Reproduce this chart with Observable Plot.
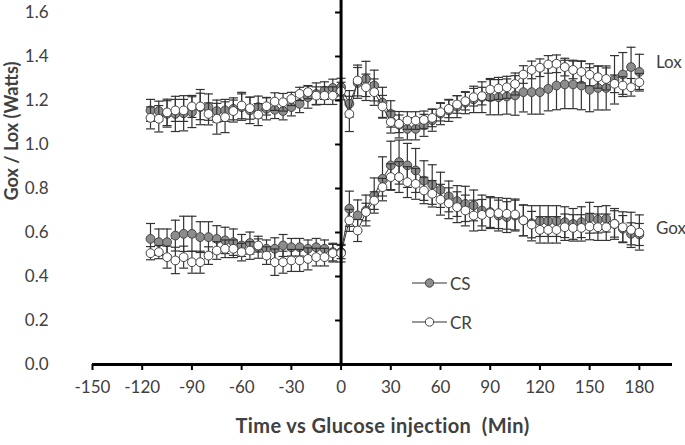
<!DOCTYPE html>
<html><head><meta charset="utf-8">
<script src="https://cdn.jsdelivr.net/npm/d3@7"></script>
<script src="https://cdn.jsdelivr.net/npm/@observablehq/plot@0.6"></script>
<style>
body{margin:0;background:#fff;}
#wrap{position:relative;width:685px;height:445px;font-family:Lato,"Open Sans",sans-serif;}
.leg{position:absolute;display:flex;align-items:center;font-size:17px;color:#404040;line-height:1;}
.leg svg{margin-right:3px;}
</style></head><body><div id="wrap"></div>
<script>
// Time (min) relative to glucose injection
const times = [-115,-110,-105,-100,-95,-90,-85,-80,-75,-70,-65,-60,-55,-50,-45,-40,-35,-30,-25,-20,-15,-10,-5,0,
  5,10,15,20,25,30,35,40,45,50,55,60,65,70,75,80,85,90,95,100,105,110,115,120,125,130,135,140,145,150,155,160,165,170,175,180];

// Lox, CS
const csLox = [1.155,1.152,1.139,1.139,1.142,1.147,1.170,1.170,1.152,1.155,1.162,1.170,1.155,1.170,1.162,1.158,1.152,1.170,1.185,1.215,1.230,1.245,1.257,1.261,
  1.185,1.280,1.298,1.268,1.190,1.139,1.090,1.071,1.071,1.087,1.110,1.140,1.155,1.172,1.190,1.205,1.215,1.215,1.215,1.218,1.223,1.238,1.238,1.238,1.253,1.268,1.273,1.273,1.268,1.249,1.257,1.257,1.294,1.318,1.352,1.330];
const csLoxErr = [0.05,0.045,0.06,0.08,0.08,0.07,0.08,0.06,0.05,0.05,0.05,0.06,0.06,0.05,0.05,0.04,0.04,0.04,0.04,0.05,0.05,0.04,0.04,0.04,
  0.06,0.07,0.08,0.07,0.07,0.06,0.06,0.05,0.05,0.05,0.05,0.05,0.05,0.05,0.05,0.06,0.07,0.08,0.08,0.08,0.09,0.09,0.10,0.10,0.10,0.11,0.11,0.11,0.11,0.10,0.10,0.10,0.11,0.10,0.09,0.08];
// Lox, CR
const crLox = [1.121,1.117,1.146,1.155,1.155,1.173,1.173,1.139,1.117,1.124,1.152,1.177,1.165,1.136,1.174,1.195,1.192,1.207,1.230,1.238,1.222,1.222,1.222,1.243,
  1.139,1.291,1.260,1.238,1.173,1.102,1.094,1.109,1.109,1.112,1.121,1.147,1.162,1.182,1.197,1.215,1.220,1.250,1.255,1.260,1.275,1.318,1.339,1.349,1.364,1.367,1.352,1.339,1.330,1.317,1.306,1.298,1.276,1.268,1.260,1.283];
const crLoxErr = [0.05,0.06,0.06,0.05,0.05,0.05,0.06,0.05,0.07,0.07,0.05,0.06,0.05,0.05,0.04,0.04,0.04,0.03,0.03,0.03,0.04,0.04,0.04,0.04,
  0.08,0.07,0.06,0.06,0.05,0.05,0.04,0.04,0.04,0.04,0.04,0.04,0.04,0.04,0.04,0.04,0.04,0.05,0.05,0.05,0.05,0.04,0.04,0.04,0.04,0.04,0.04,0.04,0.05,0.05,0.05,0.05,0.04,0.04,0.04,0.04];
// Gox, CS
const csGox = [0.571,0.556,0.556,0.586,0.594,0.594,0.579,0.579,0.571,0.564,0.556,0.541,0.552,0.533,0.526,0.526,0.541,0.533,0.533,0.526,0.533,0.526,0.511,0.511,
  0.708,0.678,0.700,0.768,0.844,0.905,0.920,0.905,0.882,0.836,0.818,0.794,0.764,0.743,0.730,0.723,0.700,0.693,0.677,0.670,0.677,0.655,0.642,0.652,0.652,0.652,0.647,0.639,0.647,0.667,0.658,0.662,0.639,0.617,0.594,0.591];
const csGoxErr = [0.07,0.06,0.06,0.07,0.08,0.08,0.07,0.07,0.06,0.06,0.06,0.05,0.05,0.05,0.04,0.05,0.05,0.04,0.04,0.04,0.04,0.04,0.04,0.03,
  0.08,0.07,0.07,0.08,0.10,0.11,0.10,0.10,0.10,0.09,0.09,0.08,0.07,0.07,0.08,0.07,0.07,0.07,0.07,0.07,0.07,0.07,0.08,0.07,0.07,0.07,0.07,0.07,0.07,0.07,0.06,0.06,0.06,0.06,0.05,0.05];
// Gox, CR
const crGox = [0.506,0.511,0.488,0.473,0.488,0.465,0.465,0.495,0.518,0.526,0.526,0.511,0.518,0.541,0.495,0.465,0.465,0.473,0.473,0.480,0.488,0.488,0.506,0.506,
  0.655,0.609,0.693,0.745,0.806,0.852,0.852,0.829,0.821,0.791,0.776,0.749,0.733,0.715,0.700,0.677,0.680,0.688,0.688,0.685,0.682,0.655,0.636,0.612,0.612,0.612,0.624,0.621,0.621,0.627,0.624,0.624,0.639,0.624,0.612,0.600];
const crGoxErr = [0.03,0.03,0.05,0.06,0.05,0.05,0.05,0.04,0.04,0.04,0.04,0.04,0.04,0.03,0.04,0.06,0.05,0.05,0.05,0.05,0.04,0.04,0.04,0.04,
  0.05,0.05,0.04,0.04,0.04,0.06,0.07,0.07,0.07,0.06,0.06,0.07,0.07,0.07,0.07,0.07,0.07,0.07,0.07,0.07,0.07,0.07,0.06,0.06,0.06,0.06,0.06,0.06,0.06,0.06,0.06,0.06,0.07,0.07,0.08,0.08];

const xTicks = [-150,-120,-90,-60,-30,0,30,60,90,120,150,180];
const yTicks = [0,0.2,0.4,0.6,0.8,1.0,1.2,1.4,1.6];
const seriesLabels = ["Lox","Gox"];
const seriesLabelX = [190,190];
const seriesLabelY = [1.372,0.618];
const xTitle = "Time vs Glucose injection \u00a0(Min)";
const yTitle = "Gox / Lox (Watts)";

const CS_FILL = "#8c8c8c", CR_FILL = "#ffffff", INK = "#333333";

const rows = (vals, errs) => times.map((t, i) => ({t, v: vals[i], e: errs[i]}));
const capSymbol = {draw(ctx){ ctx.moveTo(-4.5,0); ctx.lineTo(4.5,0); }};
const yTickSymbol = {draw(ctx){ ctx.moveTo(-6,0); ctx.lineTo(0,0); }};

function seriesMarks(data, fill) {
  return [
    Plot.ruleX(data, {x:"t", y1: d => d.v - d.e, y2: d => d.v + d.e, stroke: INK, strokeWidth: 1.2}),
    Plot.dot(data, {x:"t", y: d => d.v + d.e, symbol: capSymbol, r: 3, fill: "none", stroke: INK, strokeWidth: 1.2}),
    Plot.dot(data, {x:"t", y: d => d.v - d.e, symbol: capSymbol, r: 3, fill: "none", stroke: INK, strokeWidth: 1.2}),
    Plot.line(data, {x:"t", y:"v", stroke: INK, strokeWidth: 1}),
    Plot.dot(data, {x:"t", y:"v", r: 4.4, fill, stroke: "#444", strokeWidth: 1})
  ];
}

const chart = Plot.plot({
  width: 685, height: 445,
  marginTop: 12, marginRight: 13, marginBottom: 81, marginLeft: 92,
  style: {fontFamily: "Lato, 'Open Sans', sans-serif", color: "#404040", background: "#fff"},
  x: {domain: [-150, 200]},
  y: {domain: [0, 1.6]},
  marks: [
    Plot.axisY({ticks: yTicks, tickSize: 0, tickPadding: 44, tickFormat: d3.format(".1f"), fontSize: 17, label: null}),
    Plot.axisX({ticks: xTicks, tickSize: 6, tickPadding: 10, strokeWidth: 2, stroke: "#000", tickFormat: d => String(d), fontSize: 17, label: null}),
    Plot.text([yTitle], {frameAnchor: "left", rotate: -90, dx: -80, dy: 12, fontWeight: "bold", fontSize: 18, fill: "#404040"}),
    Plot.text([xTitle], {frameAnchor: "bottom", dy: 68, fontWeight: "bold", fontSize: 20, fill: "#404040"}),
    ...seriesMarks(rows(csLox, csLoxErr), CS_FILL),
    ...seriesMarks(rows(crLox, crLoxErr), CR_FILL),
    ...seriesMarks(rows(csGox, csGoxErr), CS_FILL),
    ...seriesMarks(rows(crGox, crGoxErr), CR_FILL),
    Plot.ruleY([0], {stroke: "#000", strokeWidth: 3}),
    Plot.ruleX([0], {stroke: "#000", strokeWidth: 3, insetTop: -12}),
    Plot.dot(yTicks, {x: () => 0, y: d => d, symbol: yTickSymbol, r: 3, fill: "none", stroke: "#000", strokeWidth: 2}),
    Plot.text(seriesLabels, {x: (d, i) => seriesLabelX[i], y: (d, i) => seriesLabelY[i], text: d => d, textAnchor: "start", fontSize: 17, fill: "#404040"})
  ]
});
for (const t of chart.querySelectorAll("text")) {
  if (t.textContent === xTitle) t.style.letterSpacing = "0.4px";
}
const wrap = document.getElementById("wrap");
wrap.appendChild(chart);

// Legend (inside plot area)
const legendItems = [{name: "CS", fill: CS_FILL, top: 274}, {name: "CR", fill: CR_FILL, top: 313}];
for (const it of legendItems) {
  const div = document.createElement("div");
  div.className = "leg";
  div.style.left = "412px"; div.style.top = it.top + "px";
  div.innerHTML = `<svg width="35" height="18"><line x1="0" y1="9" x2="35" y2="9" stroke="${INK}" stroke-width="1.2"/><circle cx="17.5" cy="9" r="4.2" fill="${it.fill}" stroke="#444"/></svg><span>${it.name}</span>`;
  wrap.appendChild(div);
}
</script></body></html>
